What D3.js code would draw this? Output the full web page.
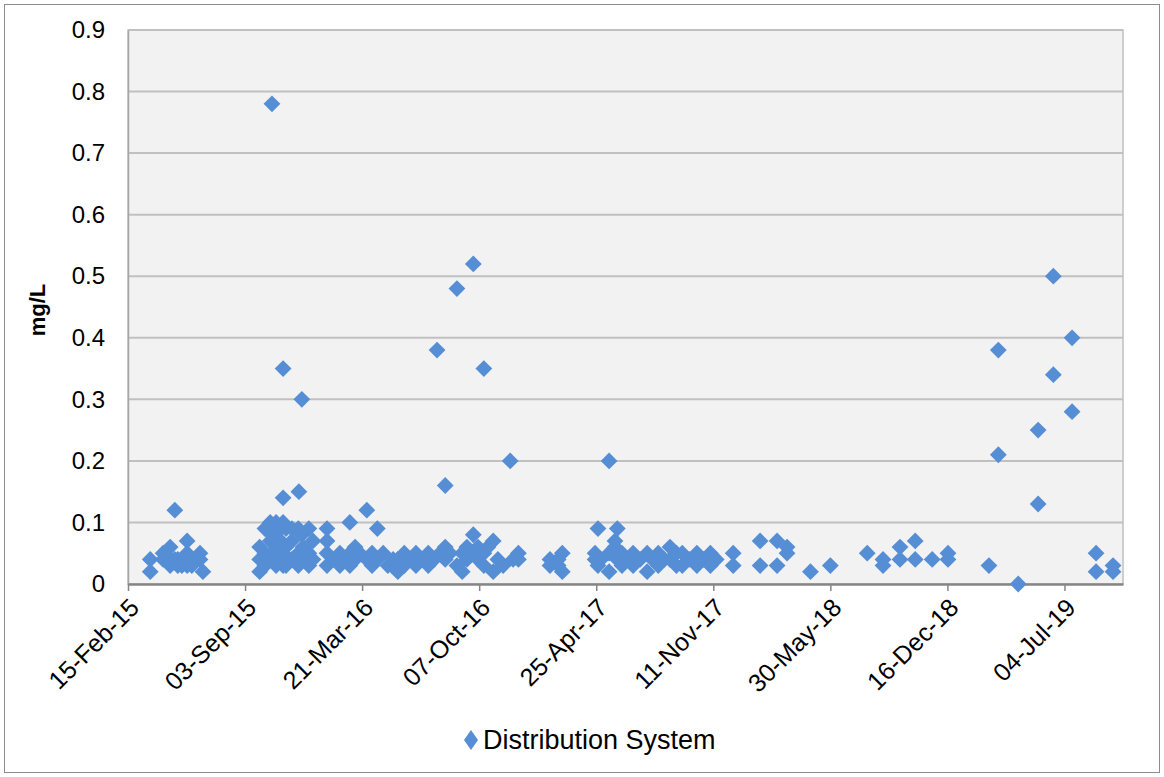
<!DOCTYPE html>
<html>
<head>
<meta charset="utf-8">
<script src="https://cdn.jsdelivr.net/npm/d3@7"></script>
<style>
  body { margin: 0; background: #fff; }
  text { font-family: Arial, "Liberation Sans", sans-serif; }
</style>
</head>
<body>
<div class="canvas"></div>
<script>
// x axis labels (every 200 days) and the axis end
const tickLabels = ["15-Feb-15", "03-Sep-15", "21-Mar-16", "07-Oct-16", "25-Apr-17",
    "11-Nov-17", "30-May-18", "16-Dec-18", "04-Jul-19"]
const xStart = "15-Feb-15"
const xEnd = "12-Oct-19"
const yTicks = [0, 0.1, 0.2, 0.3, 0.4, 0.5, 0.6, 0.7, 0.8, 0.9]

// sampling dates, each with the results (mg/L) read on that day
const sampleDates = [
    "2015-03-25", "2015-04-16", "2015-04-28", "2015-05-06", "2015-05-11", "2015-05-18",
    "2015-05-27", "2015-06-04", "2015-06-18", "2015-06-23",
    "2015-09-28", "2015-10-07", "2015-10-16", "2015-10-19", "2015-10-26", "2015-11-03",
    "2015-11-07", "2015-11-12", "2015-11-22", "2015-12-03", "2015-12-04", "2015-12-09",
    "2015-12-11", "2015-12-21", "2015-12-28",
    "2016-01-21", "2016-02-02", "2016-02-12", "2016-02-21", "2016-02-29", "2016-03-09",
    "2016-03-17", "2016-03-29", "2016-04-07", "2016-04-16", "2016-04-26", "2016-05-04",
    "2016-05-13", "2016-05-21", "2016-06-01", "2016-06-11", "2016-06-21", "2016-07-01",
    "2016-07-12", "2016-07-22", "2016-07-27", "2016-08-01", "2016-08-10", "2016-08-18",
    "2016-08-30", "2016-09-08", "2016-09-16", "2016-09-26", "2016-09-27", "2016-10-05",
    "2016-10-15", "2016-10-22", "2016-10-31", "2016-11-08", "2016-11-17", "2016-11-29",
    "2016-12-04", "2016-12-13",
    "2017-02-05", "2017-02-19", "2017-02-26", "2017-04-23", "2017-04-28", "2017-05-03",
    "2017-05-17", "2017-05-27", "2017-05-31", "2017-06-08", "2017-06-17", "2017-06-27",
    "2017-07-09", "2017-07-21", "2017-07-30", "2017-08-09", "2017-08-19", "2017-08-29",
    "2017-09-09", "2017-09-19", "2017-10-02", "2017-10-14", "2017-10-25", "2017-11-06",
    "2017-11-16", "2017-12-15",
    "2018-01-30", "2018-02-28", "2018-03-17", "2018-04-26", "2018-05-30", "2018-08-01",
    "2018-08-28", "2018-09-26", "2018-10-22", "2018-11-20", "2018-12-17",
    "2019-02-25", "2019-03-13", "2019-04-16", "2019-05-20", "2019-06-15", "2019-07-17",
    "2019-08-27", "2019-09-25"
]
const results = [
    [0.04, 0.02], [0.04, 0.05], [0.06, 0.04, 0.03], [0.12, 0.04], [0.04, 0.03], [0.03],
    [0.07, 0.05, 0.03], [0.03, 0.04], [0.05, 0.04], [0.02],
    [0.06, 0.04, 0.02], [0.09, 0.05, 0.03], [0.10, 0.07, 0.04], [0.78, 0.08, 0.05], [0.10, 0.06, 0.03], [0.09, 0.07, 0.04],
    [0.35, 0.14, 0.10, 0.05, 0.03], [0.09, 0.06, 0.03], [0.09, 0.07, 0.04], [0.09, 0.05, 0.03], [0.15], [0.30, 0.08, 0.04],
    [0.06], [0.09, 0.05, 0.03], [0.07, 0.04],
    [0.09, 0.07, 0.05, 0.03], [0.04], [0.05, 0.03], [0.04], [0.10, 0.05, 0.03], [0.06, 0.04],
    [0.05], [0.12, 0.04], [0.05, 0.03], [0.09, 0.04], [0.05], [0.03],
    [0.04], [0.02, 0.04], [0.05, 0.03], [0.04], [0.05, 0.03], [0.04],
    [0.05, 0.03], [0.04], [0.38], [0.05], [0.16, 0.06, 0.04], [0.05],
    [0.48, 0.03], [0.05, 0.02], [0.06, 0.04], [0.05], [0.52, 0.08], [0.06, 0.04],
    [0.35, 0.05, 0.03], [0.06], [0.07, 0.02], [0.04], [0.03], [0.20],
    [0.04], [0.05, 0.04],
    [0.04, 0.03], [0.04, 0.03], [0.05, 0.02], [0.05, 0.04], [0.09, 0.03], [0.04],
    [0.20, 0.02, 0.05], [0.07, 0.06], [0.09, 0.04], [0.05, 0.03], [0.04], [0.05, 0.03],
    [0.04], [0.05, 0.02], [0.04], [0.05, 0.03], [0.04], [0.06, 0.04],
    [0.05, 0.03], [0.05, 0.03], [0.04], [0.05, 0.03], [0.04], [0.05, 0.03],
    [0.04], [0.05, 0.03],
    [0.07, 0.03], [0.07, 0.03], [0.06, 0.05], [0.02], [0.03], [0.05],
    [0.04, 0.03], [0.06, 0.04], [0.07, 0.04], [0.04], [0.05, 0.04],
    [0.03], [0.38, 0.21], [0.00], [0.25, 0.13], [0.50, 0.34], [0.40, 0.28],
    [0.05, 0.02], [0.03, 0.02]
]

const blue = "#558ED5"

const svg = d3.select(".canvas")
    .append("svg")
    .attr("width", 1164)
    .attr("height", 777)

// chart frame
svg.append("rect")
    .attr("x", 4.5).attr("y", 4.5)
    .attr("width", 1155).attr("height", 768)
    .attr("fill", "#fff")
    .attr("stroke", "#8c8c8c")

const margin = { top: 30, left: 128 }
const graphWidth = 995
const graphHeight = 554

const graph = svg.append("g")
    .attr("transform", `translate(${margin.left}, ${margin.top})`)

graph.append("rect")
    .attr("width", graphWidth)
    .attr("height", graphHeight)
    .attr("fill", "#f2f2f2")
    .attr("stroke", "#c0c0c0")
    .attr("stroke-width", 1.5)

const parseLabel = d3.timeParse("%d-%b-%y")
const parseDate = d3.timeParse("%Y-%m-%d")

const x = d3.scaleTime()
    .domain([parseLabel(xStart), parseLabel(xEnd)])
    .range([0, graphWidth])

const y = d3.scaleLinear()
    .domain([0, 0.9])
    .range([graphHeight, 0])

// gridlines
graph.selectAll(".grid")
    .data(yTicks.slice(1))
    .enter()
    .append("line")
    .attr("x1", 0).attr("x2", graphWidth)
    .attr("y1", d => y(d)).attr("y2", d => y(d))
    .attr("stroke", "#c0c0c0")
    .attr("stroke-width", 2)

// axes
const yAxis = d3.axisLeft(y)
    .tickValues(yTicks)
    .tickSize(0)
    .tickPadding(23)
    .tickFormat(d => d === 0 ? "0" : d3.format(".1f")(d))
const yAxisGroup = graph.append("g").call(yAxis)
yAxisGroup.select(".domain").attr("stroke", "#a6a6a6").attr("stroke-width", 1.5)
yAxisGroup.selectAll("text")
    .attr("font-size", 24)
    .attr("fill", "#000")
    .attr("font-family", "Arial, 'Liberation Sans', sans-serif")

const xAxis = d3.axisBottom(x)
    .tickValues(tickLabels.map(parseLabel))
    .tickSize(7)
    .tickSizeOuter(0)
    .tickFormat(d3.timeFormat("%d-%b-%y"))
const xAxisGroup = graph.append("g")
    .attr("transform", `translate(0, ${graphHeight})`)
    .call(xAxis)
xAxisGroup.select(".domain").attr("stroke", "#868686").attr("stroke-width", 2.5)
xAxisGroup.selectAll("line").attr("stroke", "#868686").attr("stroke-width", 1.5)
xAxisGroup.selectAll("text")
    .attr("x", 0).attr("y", 0).attr("dy", "0.35em")
    .attr("transform", "translate(6, 19) rotate(-45)")
    .attr("text-anchor", "end")
    .attr("font-size", 25)
    .attr("fill", "#000")
    .attr("font-family", "Arial, 'Liberation Sans', sans-serif")

// points
const points = sampleDates.flatMap((d, i) => results[i].map(v => ({ date: parseDate(d), value: v })))
const diamond = d3.symbol().type(d3.symbolDiamond2).size(180)

graph.selectAll(".pt")
    .data(points)
    .enter()
    .append("path")
    .attr("d", diamond)
    .attr("transform", d => `translate(${x(d.date)}, ${y(d.value)})`)
    .attr("fill", blue)

// y label
svg.append("text")
    .attr("transform", "translate(37, 310) rotate(-90)")
    .attr("text-anchor", "middle")
    .attr("dy", "0.35em")
    .attr("font-size", 22)
    .attr("font-weight", "bold")
    .text("mg/L")

// legend
const legend = svg.append("g").attr("transform", "translate(471, 740)")
legend.append("path")
    .attr("d", "M0,-10L7,0L0,10L-7,0Z")
    .attr("fill", blue)
legend.append("text")
    .attr("x", 12)
    .attr("dy", "0.35em")
    .attr("font-size", 27)
    .text("Distribution System")
</script>
</body>
</html>
